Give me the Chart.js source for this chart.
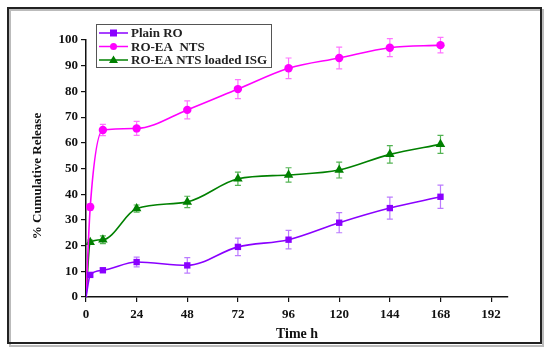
<!DOCTYPE html>
<html>
<head>
<meta charset="utf-8">
<script src="https://cdn.jsdelivr.net/npm/chart.js@4/dist/chart.umd.min.js"></script>
<style>
  html, body { margin: 0; padding: 0; background: #fff; }
  #wrap { width: 550px; height: 352px; }
</style>
</head>
<body>
<div id="wrap"><canvas id="releaseChart" width="550" height="352"></canvas></div>
<script>
// Time points (h) and release data (% cumulative)
const timeHours = [0, 2, 8, 24, 48, 72, 96, 120, 144, 168];
const plainRO = [0, 8.6, 10.4, 13.6, 12.3, 19.5, 22.3, 28.9, 34.6, 39.0];
const plainROErr = [0, 0.6, 0.8, 1.9, 3.0, 3.4, 3.6, 3.9, 4.3, 4.5];
const roEaNts = [0, 35, 65, 65.6, 72.8, 80.9, 89, 93, 97, 98];
const roEaNtsErr = [0, 1.2, 2.2, 2.7, 3.5, 3.7, 4.0, 4.2, 3.5, 3.0];
const roEaNtsIsg = [0, 21.3, 22.3, 34.4, 37, 46, 47.5, 49.4, 55.5, 59.4];
const roEaNtsIsgErr = [0, 0.8, 1.5, 1.4, 2.2, 2.6, 2.8, 3.1, 3.4, 3.5];
const seriesNames = ['Plain RO', 'RO-EA  NTS', 'RO-EA NTS loaded ISG'];
const xTicks = [0, 24, 48, 72, 96, 120, 144, 168, 192];
const yTicks = [0, 10, 20, 30, 40, 50, 60, 70, 80, 90, 100];

const serif = "'Liberation Serif', 'Times New Roman', serif";

function toPoints(ys) {
  return timeHours.map((t, i) => ({ x: t, y: ys[i] }));
}

// error bars, drawn under the markers
const errorBars = {
  id: 'errorBars',
  beforeDatasetsDraw(chart) {
    const ctx = chart.ctx;
    const ys = chart.scales.y;
    chart.data.datasets.forEach((ds, di) => {
      const meta = chart.getDatasetMeta(di);
      ctx.save();
      ctx.strokeStyle = ds.errColor;
      ctx.lineWidth = 1.2;
      meta.data.forEach((pt, i) => {
        const e = ds.err[i];
        if (!e) return;
        const v = ds.data[i].y;
        const top = ys.getPixelForValue(v + e);
        const bot = ys.getPixelForValue(v - e);
        ctx.beginPath();
        ctx.moveTo(pt.x, top); ctx.lineTo(pt.x, bot);
        ctx.moveTo(pt.x - 3, top); ctx.lineTo(pt.x + 3, top);
        ctx.moveTo(pt.x - 3, bot); ctx.lineTo(pt.x + 3, bot);
        ctx.stroke();
      });
      ctx.restore();
    });
  }
};

// frame, axis titles and the boxed legend
const decorations = {
  id: 'decorations',
  afterDraw(chart) {
    const ctx = chart.ctx;
    const area = chart.chartArea;
    ctx.save();
    // outer frame with a soft shadow
    ctx.strokeStyle = '#bbb';
    ctx.lineWidth = 2;
    ctx.strokeRect(10, 10, 533, 336);
    ctx.strokeStyle = '#222';
    ctx.lineWidth = 2;
    ctx.strokeRect(8, 8, 533, 335);

    // axis titles
    ctx.fillStyle = '#111';
    ctx.font = 'bold 14px ' + serif;
    ctx.textAlign = 'center';
    ctx.textBaseline = 'middle';
    ctx.fillText('Time h', (area.left + area.right) / 2, 334);
    ctx.font = 'bold 13px ' + serif;
    ctx.save();
    ctx.translate(38, 176);
    ctx.rotate(-Math.PI / 2);
    ctx.fillText('% Cumulative Release', 0, 0);
    ctx.restore();

    // legend
    ctx.strokeStyle = '#555';
    ctx.lineWidth = 1;
    ctx.strokeRect(96.5, 24.5, 175, 43);
    chart.data.datasets.forEach((ds, i) => {
      const y = 33 + i * 13.5;
      ctx.strokeStyle = ds.borderColor;
      ctx.lineWidth = 1.5;
      ctx.beginPath();
      ctx.moveTo(99, y); ctx.lineTo(128, y);
      ctx.stroke();
      ctx.fillStyle = ds.borderColor;
      const cx = 113.5;
      ctx.beginPath();
      if (ds.pointStyle === 'rect') {
        ctx.rect(cx - 3.5, y - 3.5, 7, 7);
      } else if (ds.pointStyle === 'circle') {
        ctx.arc(cx, y, 3.5, 0, Math.PI * 2);
      } else {
        ctx.moveTo(cx, y - 4.5); ctx.lineTo(cx + 4.5, y + 3); ctx.lineTo(cx - 4.5, y + 3);
        ctx.closePath();
      }
      ctx.fill();
      ctx.fillStyle = '#222';
      ctx.font = 'bold 13px ' + serif;
      ctx.textAlign = 'left';
      ctx.textBaseline = 'middle';
      ctx.fillText(ds.label, 131, y + 1);
    });
    ctx.restore();
  }
};

const firstSmall = (r) => (c) => (c.dataIndex === 0 ? 1.5 : r);

new Chart(document.getElementById('releaseChart').getContext('2d'), {
  type: 'scatter',
  data: {
    datasets: [
      {
        label: seriesNames[0],
        data: toPoints(plainRO),
        err: plainROErr,
        errColor: 'rgba(170,90,255,0.8)',
        borderColor: '#8a00ff',
        backgroundColor: '#8a00ff',
        pointStyle: 'rect',
        pointRadius: firstSmall(4.5)
      },
      {
        label: seriesNames[1],
        data: toPoints(roEaNts),
        err: roEaNtsErr,
        errColor: 'rgba(255,80,255,0.8)',
        borderColor: '#ff00ff',
        backgroundColor: '#ff00ff',
        pointStyle: 'circle',
        pointRadius: firstSmall(4.2)
      },
      {
        label: seriesNames[2],
        data: toPoints(roEaNtsIsg),
        err: roEaNtsIsgErr,
        errColor: 'rgba(40,160,40,0.8)',
        borderColor: '#008000',
        backgroundColor: '#008000',
        pointStyle: 'triangle',
        pointRadius: firstSmall(5.5)
      }
    ].map(ds => Object.assign(ds, {
      showLine: true,
      borderWidth: 1.6,
      tension: 0.4,
      cubicInterpolationMode: 'monotone',
      pointBorderWidth: 0
    }))
  },
  options: {
    responsive: false,
    animation: false,
    layout: { padding: { left: 0, top: 40, right: 42, bottom: 0 } },
    plugins: {
      legend: { display: false },
      tooltip: { enabled: false }
    },
    scales: {
      x: {
        type: 'linear',
        min: 0,
        max: 200,
        afterBuildTicks: (s) => { s.ticks = xTicks.map(v => ({ value: v })); },
        afterFit: (s) => { s.height = 55; },
        grid: { display: true, drawOnChartArea: false, drawTicks: true, tickLength: 5, color: '#111', lineWidth: 1.2 },
        border: { display: true, color: '#111', width: 1.5 },
        ticks: { color: '#111', padding: 5, font: { family: serif, size: 13, weight: 'bold' } }
      },
      y: {
        type: 'linear',
        min: 0,
        max: 100,
        afterBuildTicks: (s) => { s.ticks = yTicks.map(v => ({ value: v })); },
        afterFit: (s) => { s.width = 86; },
        grid: { display: true, drawOnChartArea: false, drawTicks: true, tickLength: 5, color: '#111', lineWidth: 1.2 },
        border: { display: true, color: '#111', width: 1.5 },
        ticks: { color: '#111', padding: 3, font: { family: serif, size: 13, weight: 'bold' } }
      }
    }
  },
  plugins: [errorBars, decorations]
});
</script>
</body>
</html>
